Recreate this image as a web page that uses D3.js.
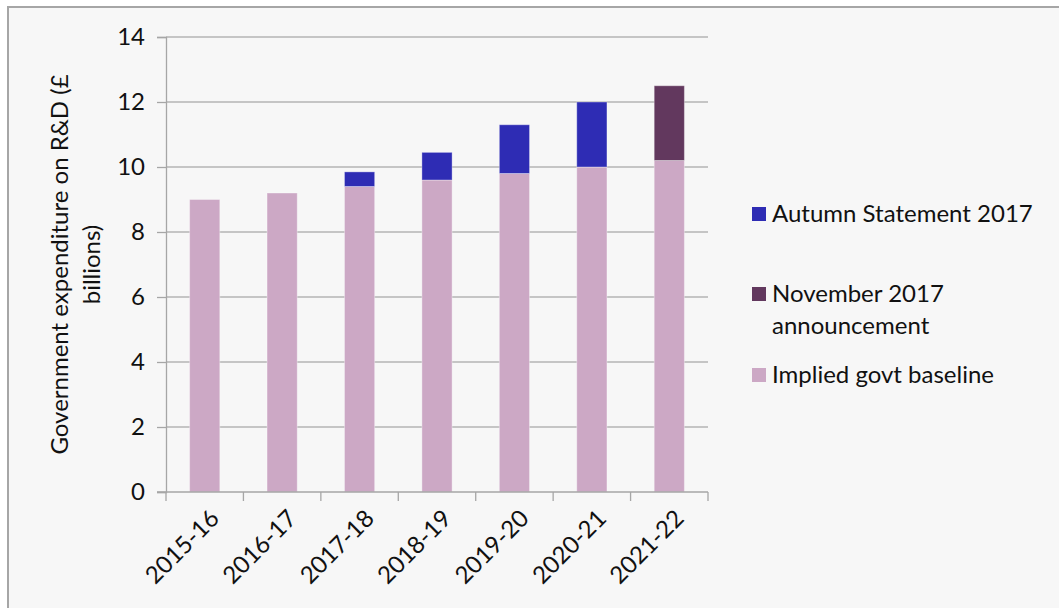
<!DOCTYPE html>
<html>
<head>
<meta charset="utf-8">
<script src="https://cdn.jsdelivr.net/npm/d3@7"></script>
<style>
  html, body { margin: 0; padding: 0; background: #ffffff; }
  svg { display: block; }
  text { font-family: Lato, "Open Sans", sans-serif; fill: #111111; }
</style>
</head>
<body>
<svg id="chart" width="1059" height="608"></svg>
<script>
// Fiscal years shown along the x axis
const years = ["2015-16", "2016-17", "2017-18", "2018-19", "2019-20", "2020-21", "2021-22"];

// Government R&D spending, £ billions, stacked bottom to top
const baseline = [9.0, 9.2, 9.4, 9.6, 9.8, 10.0, 10.2];
const autumnStatement = [0, 0, 0.45, 0.85, 1.5, 2.0, 0];
const novemberAnnouncement = [0, 0, 0, 0, 0, 0, 2.3];

const yTicks = [0, 2, 4, 6, 8, 10, 12, 14];

const seriesNames = ["Implied govt baseline", "Autumn Statement 2017", "November 2017 announcement"];
const seriesColors = ["#cca8c5", "#2e2cb4", "#62385e"];

const fontSize = 24;
const svg = d3.select("#chart");

// Outer chart frame
svg.append("rect")
  .attr("x", 8).attr("y", 7)
  .attr("width", 1070).attr("height", 620)
  .attr("fill", "#f7f7f7")
  .attr("stroke", "#a6a6a6")
  .attr("stroke-width", 2);

const plot = { left: 166, right: 708, top: 37, bottom: 492 };

const x = d3.scaleBand()
  .domain(years)
  .range([plot.left, plot.right])
  .paddingInner(0.61)
  .paddingOuter(0.305);

const y = d3.scaleLinear()
  .domain([0, 14])
  .range([plot.bottom, plot.top]);

// Horizontal gridlines
svg.append("g")
  .selectAll("line")
  .data(yTicks.filter(t => t > 0))
  .join("line")
  .attr("x1", plot.left).attr("x2", plot.right)
  .attr("y1", d => y(d)).attr("y2", d => y(d))
  .attr("stroke", "#b4b4b4")
  .attr("stroke-width", 1.3);

// Stacked bars
const rows = years.map((yr, i) => ({
  year: yr,
  "Implied govt baseline": baseline[i],
  "Autumn Statement 2017": autumnStatement[i],
  "November 2017 announcement": novemberAnnouncement[i]
}));
const stacked = d3.stack().keys(seriesNames)(rows);

svg.append("g")
  .selectAll("g")
  .data(stacked)
  .join("g")
  .attr("fill", (d, i) => seriesColors[i])
  .selectAll("rect")
  .data(d => d.filter(s => s[1] - s[0] > 0))
  .join("rect")
  .attr("x", d => x(d.data.year))
  .attr("width", x.bandwidth())
  .attr("y", d => y(d[1]))
  .attr("height", d => y(d[0]) - y(d[1]))
  .attr("stroke", "rgba(255,255,255,0.35)")
  .attr("stroke-width", 1);

// Y axis
const yAxis = svg.append("g")
  .attr("transform", `translate(${plot.left},0)`)
  .call(d3.axisLeft(y).tickValues(yTicks).tickSize(9).tickPadding(12));
yAxis.select(".domain").attr("stroke", "#a6a6a6").attr("stroke-width", 1.3);
yAxis.selectAll(".tick line").attr("stroke", "#a6a6a6").attr("stroke-width", 1.3);
yAxis.selectAll(".tick text")
  .attr("font-size", fontSize)
  .attr("fill", "#111111")
  .style("font-family", "Lato, sans-serif");

// X axis with tick marks at category boundaries
const xAxisG = svg.append("g")
  .attr("transform", `translate(0,${plot.bottom})`);
xAxisG.append("line")
  .attr("x1", plot.left - 9).attr("x2", plot.right)
  .attr("stroke", "#a6a6a6").attr("stroke-width", 1.3);
const edges = d3.range(years.length + 1).map(i => plot.left + i * x.step());
xAxisG.selectAll("line.tk")
  .data(edges)
  .join("line")
  .attr("class", "tk")
  .attr("x1", d => d).attr("x2", d => d)
  .attr("y1", 0).attr("y2", 9)
  .attr("stroke", "#a6a6a6").attr("stroke-width", 1.3);
xAxisG.selectAll("text")
  .data(years)
  .join("text")
  .attr("transform", d => `translate(${x(d) + x.bandwidth() / 2 + 10},${22}) rotate(-45)`)
  .attr("text-anchor", "end")
  .attr("dy", "0.35em")
  .attr("font-size", fontSize)
  .text(d => d);

// Y axis title, two lines centred on the plot height
const yTitle = svg.append("text")
  .attr("transform", `translate(60,${(plot.top + plot.bottom) / 2}) rotate(-90)`)
  .attr("text-anchor", "middle")
  .attr("font-size", fontSize);
yTitle.append("tspan").attr("x", 0).attr("dy", "0.35em").text("Government expenditure on R&D (£");
yTitle.append("tspan").attr("x", 0).attr("dy", "1.3em").text("billions)");

// Legend
const legendItems = [
  { color: seriesColors[1], lines: ["Autumn Statement 2017"], y: 214 },
  { color: seriesColors[2], lines: ["November 2017", "announcement"], y: 294 },
  { color: seriesColors[0], lines: ["Implied govt baseline"], y: 375 }
];
const legend = svg.append("g");
legendItems.forEach(item => {
  legend.append("rect")
    .attr("x", 752).attr("y", item.y - 7)
    .attr("width", 14).attr("height", 14)
    .attr("fill", item.color);
  const t = legend.append("text")
    .attr("x", 772).attr("y", item.y)
    .attr("font-size", fontSize);
  item.lines.forEach((ln, i) => {
    t.append("tspan").attr("x", 772).attr("dy", i === 0 ? "0.35em" : "1.3em").text(ln);
  });
});
</script>
</body>
</html>
